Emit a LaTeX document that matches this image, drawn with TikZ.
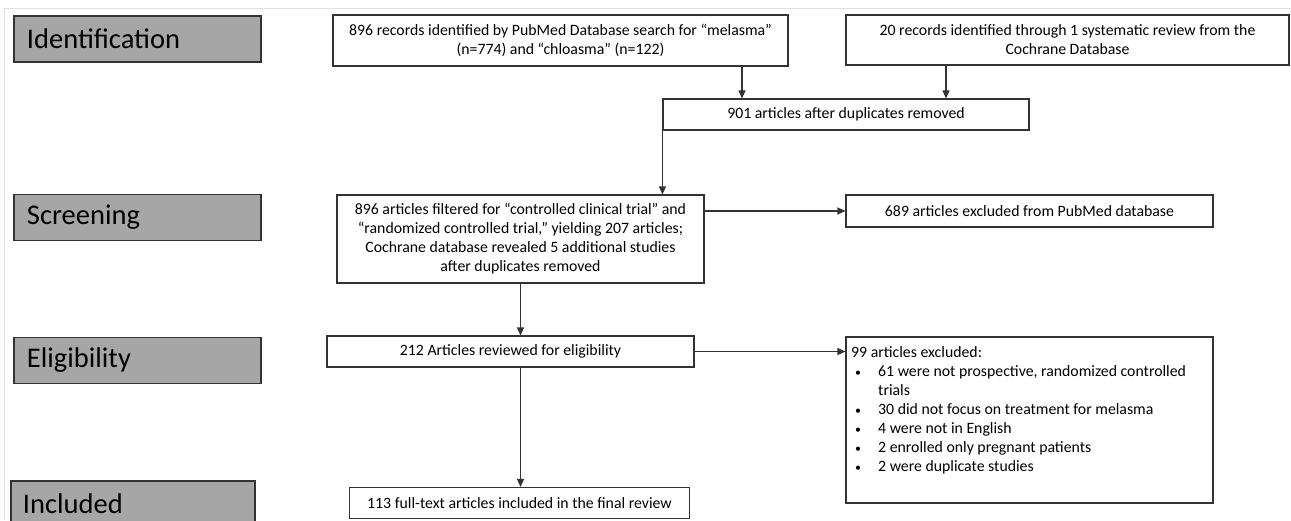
\documentclass[tikz,border=0pt]{standalone}
\usepackage{fontspec}
\setmainfont{Carlito}
\usetikzlibrary{arrows.meta,positioning}
\definecolor{stagegray}{RGB}{166,166,166}
\newcommand{\bitem}{\makebox[27pt][l]{\hspace{4pt}\scalebox{0.75}{\textbullet}}}
\begin{document}
\begin{tikzpicture}[
			x=1pt,y=-1pt,
			stage/.style={rectangle,draw=black!80,fill=stagegray,line width=1.2pt,
					minimum height=46pt,inner xsep=13pt,text width=221pt,align=left,
					font=\fontsize{28.5}{32}\selectfont},
			flowbox/.style={rectangle,draw=black!80,fill=white,line width=1.1pt,
					inner sep=0pt,align=center,font=\fontsize{15.8}{19}\selectfont},
			listtext/.style={inner sep=0pt,align=left,font=\fontsize{15.8}{19}\selectfont},
			flowarrow/.style={draw=black!80,line width=1.1pt,-{Triangle[length=8pt,width=7pt]}}
		]
		\useasboundingbox (0,0) rectangle (1291,520);
		\draw[black!12] (4,520) -- (4,8) -- (1291,8);
		% stage labels
		\node[stage] (identstage) at (137.5,39) {Identification};
		\node[stage] (screenstage) at (137.5,217.5) {Screening};
		\node[stage] (eligstage) at (137.5,360.5) {Eligibility};
		\node[stage,inner xsep=12pt,text width=220pt] (inclstage) at (133,504) {Included};
		% flow boxes
		\node[flowbox,minimum width=455pt,minimum height=51pt] (pubmed) at (560.5,40.5)
		{896 records identified by PubMed Database search for “melasma”\\ (n=774) and “chloasma” (n=122)};
		\node[flowbox,minimum width=443pt,minimum height=50pt] (cochrane) at (1067.5,40)
		{20 records identified through 1 systematic review from the\\ Cochrane Database};
		\node[flowbox,minimum width=366pt,minimum height=31pt] (dedup) at (846,114.5)
		{901 articles after duplicates removed};
		\node[flowbox,minimum width=367pt,minimum height=88pt] (screen) at (520.5,239)
		{896 articles filtered for “controlled clinical trial” and\\ “randomized controlled trial,” yielding 207 articles;\\ Cochrane database revealed 5 additional studies\\ after duplicates removed};
		\node[flowbox,minimum width=367pt,minimum height=32pt] (excla) at (1029.5,211)
		{689 articles excluded from PubMed database};
		\node[flowbox,minimum width=367pt,minimum height=31pt] (elig) at (510.5,351.5)
		{212 Articles reviewed for eligibility};
		\node[flowbox,minimum width=367pt,minimum height=166pt] (exclb) at (1029.5,420) {};
		\node[listtext,anchor=north west] (exclist) at (851,346)
		{99 articles excluded:\\
			\bitem 61 were not prospective, randomized controlled\\
			\hspace*{27pt}trials\\
			\bitem 30 did not focus on treatment for melasma\\
			\bitem 4 were not in English\\
			\bitem 2 enrolled only pregnant patients\\
			\bitem 2 were duplicate studies};
		\node[flowbox,minimum width=340pt,minimum height=31pt] (incl) at (519.5,503)
		{113 full-text articles included in the final review};
		% connectors
		\coordinate (pubdrop) at (742,0);
		\coordinate (cochdrop) at (946,0);
		\draw[flowarrow] (pubmed.south -| pubdrop) -- (dedup.north -| pubdrop);
		\draw[flowarrow] (cochrane.south -| cochdrop) -- (dedup.north -| cochdrop);
		\draw[flowarrow] (dedup.south west) -- (screen.north -| dedup.south west);
		\draw[flowarrow] (excla.west -| screen.east) -- (excla.west);
		\draw[flowarrow] (screen.south) -- (elig.north -| screen.south);
		\draw[flowarrow] (elig.east) -- (elig.east -| exclb.west);
		\draw[flowarrow] (elig.south -| screen.south) -- (incl.north -| screen.south);
	\end{tikzpicture}
\end{document}
